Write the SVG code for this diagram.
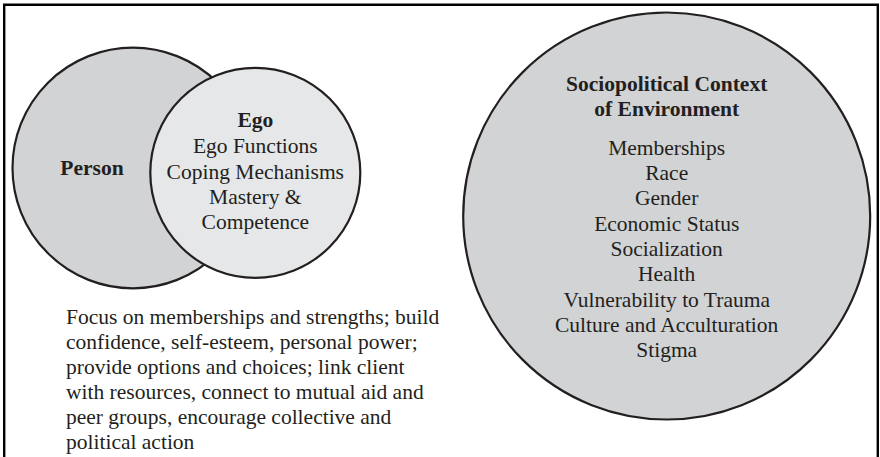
<svg xmlns="http://www.w3.org/2000/svg" width="880" height="457" viewBox="0 0 880 457">
<style>
text{font-family:'Liberation Serif','Times New Roman',Times,serif;font-size:21.5px;fill:#231f20;text-anchor:middle}
.b{font-weight:bold}
.l{text-anchor:start}
.c{stroke:#231f20;stroke-width:2.2}
</style>
<rect width="880" height="457" fill="#fff"/>
<path d="M4.2,460 V4.8 H877.8 V460" fill="none" stroke="#000" stroke-width="2.4"/>
<g id="person">
<circle class="c" cx="132.8" cy="168" r="120.3" fill="#d1d3d4"/>
<text class="b" x="92" y="175">Person</text>
</g>
<g id="ego">
<circle class="c" cx="255.3" cy="172.8" r="105" fill="#e6e7e8"/>
<text class="b" x="255.3" y="127">Ego</text>
<text x="255.3" y="153">Ego Functions</text>
<text x="255.3" y="178.5">Coping Mechanisms</text>
<text x="255.3" y="203.5">Mastery &amp;</text>
<text x="255.3" y="229">Competence</text>
</g>
<g id="environment">
<circle class="c" cx="666.7" cy="216" r="203.5" fill="#d1d3d4"/>
<text class="b" x="666.7" y="90.7">Sociopolitical Context</text>
<text class="b" x="666.7" y="115.5">of Environment</text>
<text x="666.7" y="155">Memberships</text>
<text x="666.7" y="180">Race</text>
<text x="666.7" y="205.3">Gender</text>
<text x="666.7" y="230.6">Economic Status</text>
<text x="666.7" y="256">Socialization</text>
<text x="666.7" y="281.3">Health</text>
<text x="666.7" y="306.7">Vulnerability to Trauma</text>
<text x="666.7" y="332">Culture and Acculturation</text>
<text x="666.7" y="357.3">Stigma</text>
</g>
<g id="focus">
<text class="l" x="66" y="324">Focus on memberships and strengths; build</text>
<text class="l" x="66" y="349">confidence, self-esteem, personal power;</text>
<text class="l" x="66" y="374">provide options and choices; link client</text>
<text class="l" x="66" y="399">with resources, connect to mutual aid and</text>
<text class="l" x="66" y="424">peer groups, encourage collective and</text>
<text class="l" x="66" y="449">political action</text>
</g>
<g id="connectors"></g>
</svg>
